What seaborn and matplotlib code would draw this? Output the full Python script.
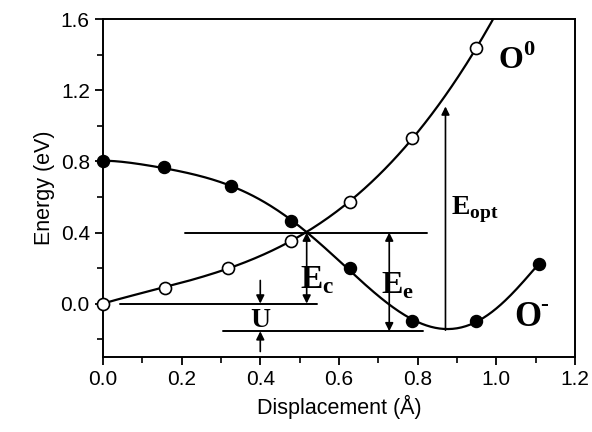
import numpy as np
import pandas as pd
import matplotlib
matplotlib.use("Agg")
import matplotlib.pyplot as plt
import seaborn as sns

# ---- data ----
o0_x = [0.0, 0.158, 0.317, 0.478, 0.628, 0.786, 0.949]
o0_y = [0.0, 0.09, 0.20, 0.353, 0.573, 0.93, 1.437]
om_x = [0.0, 0.156, 0.325, 0.477, 0.627, 0.786, 0.949, 1.108]
om_y = [0.80, 0.77, 0.66, 0.466, 0.20, -0.098, -0.10, 0.222]

level_y = [0.40, 0.0, -0.156]
level_x0 = [0.208, 0.042, 0.306]
level_x1 = [0.823, 0.545, 0.814]

xticks = [0.0, 0.2, 0.4, 0.6, 0.8, 1.0, 1.2]
yticks = [0.0, 0.4, 0.8, 1.2, 1.6]

sns.set_style("ticks")
plt.rcParams['font.family'] = ['Liberation Sans', 'DejaVu Sans']
plt.rcParams['mathtext.fontset'] = 'custom'
plt.rcParams['mathtext.bf'] = 'Liberation Serif:bold'
plt.rcParams['mathtext.rm'] = 'Liberation Serif'
plt.rcParams['text.color'] = 'black'
plt.rcParams['axes.labelcolor'] = 'black'


def fit_curve(x, y, powers):
    x = np.asarray(x)
    A = np.column_stack([x ** p for p in powers])
    coef, *_ = np.linalg.lstsq(A, np.asarray(y), rcond=None)
    return lambda t: sum(c * np.asarray(t) ** p for c, p in zip(coef, powers))


fig = plt.figure(figsize=(5.92, 4.32), dpi=100)
ax = fig.add_axes([0.174, 0.174, 0.797, 0.781])

# smooth fitted curves through the data points
f0 = fit_curve(o0_x, o0_y, [1, 2, 3, 4])
fm = fit_curve(om_x, om_y, [0, 2, 3, 4, 5, 6])
xs0 = np.linspace(0, 1.02, 300)
xsm = np.linspace(0, 1.108, 300)
sns.lineplot(x=xs0, y=f0(xs0), ax=ax, color='black', lw=1.6)
sns.lineplot(x=xsm, y=fm(xsm), ax=ax, color='black', lw=1.6)

sns.scatterplot(x=o0_x, y=o0_y, ax=ax, s=75, facecolor='white', edgecolor='black',
                linewidth=1.2, zorder=5, clip_on=False)
sns.scatterplot(x=om_x, y=om_y, ax=ax, s=75, color='black', edgecolor='black',
                linewidth=1.0, zorder=5, clip_on=False)

for y, a, b in zip(level_y, level_x0, level_x1):
    ax.plot([a, b], [y, y], color='black', lw=1.4)

ap = dict(arrowstyle='-|>', color='black', lw=1.2, mutation_scale=12, shrinkA=0, shrinkB=0)
# Ec
ax.annotate('', xy=(0.518, 0.40), xytext=(0.518, 0.2), arrowprops=ap)
ax.annotate('', xy=(0.518, 0.0), xytext=(0.518, 0.2), arrowprops=ap)
# Ee
ax.annotate('', xy=(0.728, 0.40), xytext=(0.728, 0.12), arrowprops=ap)
ax.annotate('', xy=(0.728, -0.156), xytext=(0.728, 0.12), arrowprops=ap)
# U
ax.annotate('', xy=(0.40, 0.0), xytext=(0.40, 0.13), arrowprops=ap)
ax.annotate('', xy=(0.40, -0.156), xytext=(0.40, -0.27), arrowprops=ap)
# Eopt
ax.annotate('', xy=(0.871, 1.11), xytext=(0.871, -0.15), arrowprops=ap)

serif = dict(family='Liberation Serif', weight='bold', color='black')
ax.text(0.502, 0.13, r'$\mathbf{E}_{\mathbf{c}}$', fontsize=24, va='center', ha='left')
ax.text(0.706, 0.10, r'$\mathbf{E}_{\mathbf{e}}$', fontsize=23, va='center', ha='left')
ax.text(0.40, -0.09, r'$\mathbf{U}$', fontsize=20, va='center', ha='center')
ax.text(0.885, 0.53, r'$\mathbf{E}_{\mathbf{opt}}$', fontsize=20, va='center', ha='left')
ax.text(1.005, 1.37, r'$\mathbf{O}^{\mathbf{0}}$', fontsize=23, va='center', ha='left')
ax.text(1.045, -0.08, 'O', fontsize=25, va='center', ha='left', **serif)
ax.text(1.112, -0.01, '-', fontsize=17, va='center', ha='left', **serif)

ax.set_xlim(0, 1.2)
ax.set_ylim(-0.3, 1.6)
ax.set_xticks(xticks)
ax.set_yticks(yticks)
ax.set_xticklabels([f"{v:.1f}" for v in xticks])
ax.set_yticklabels([f"{v:.1f}" for v in yticks])
ax.set_xticks(np.arange(0.1, 1.2, 0.2), minor=True)
ax.set_yticks([-0.2, 0.2, 0.6, 1.0, 1.4], minor=True)
ax.tick_params(axis='both', which='major', direction='out', length=6, width=1.3,
               labelsize=15, colors='black', labelcolor='black')
ax.tick_params(axis='both', which='minor', direction='out', length=4, width=1.2, colors='black')
for s in ax.spines.values():
    s.set_visible(True)
    s.set_linewidth(1.4)
    s.set_color('black')
ax.set_xlabel('Displacement (Å)', fontsize=15.5, color='black')
ax.set_ylabel('Energy (eV)', fontsize=15.5, color='black')

fig.savefig('out.png', dpi=100)
